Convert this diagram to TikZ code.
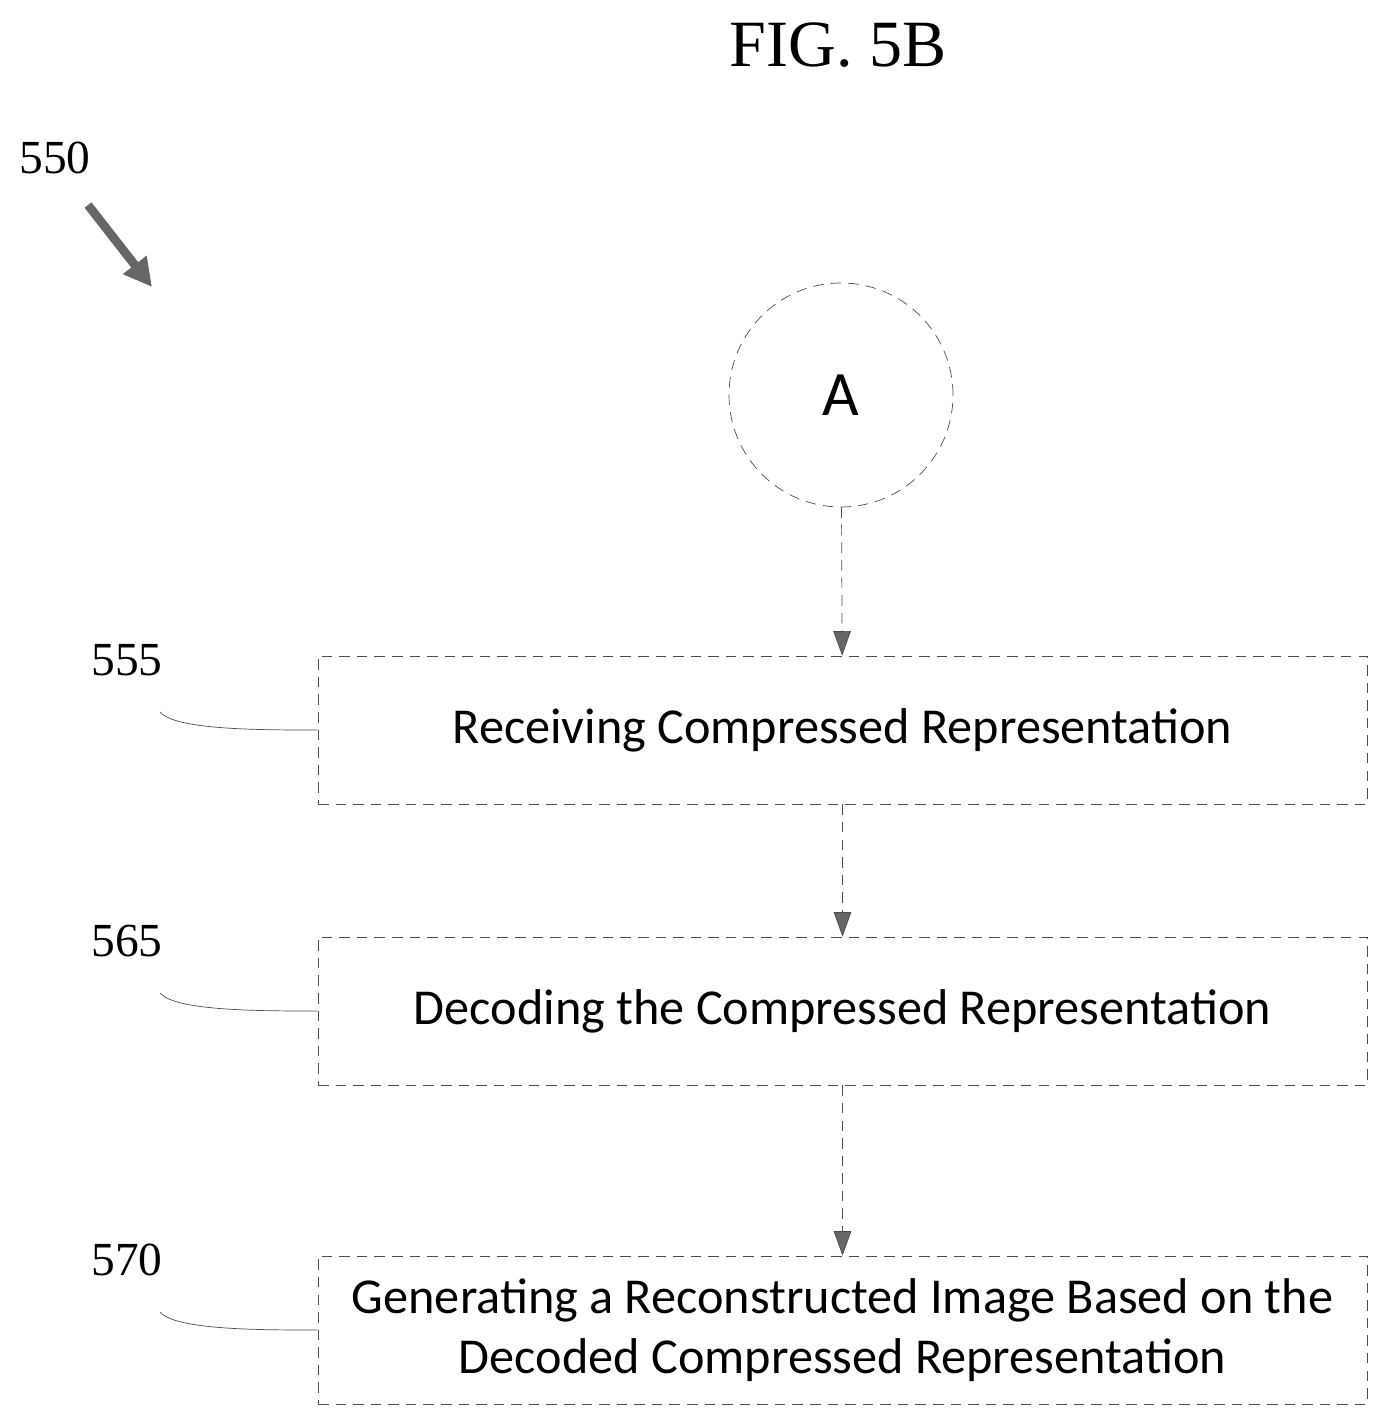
\documentclass[tikz,border=0pt]{standalone}
\usepackage{fontspec}
\setmainfont{Liberation Serif}
\newfontfamily\boxfont{Carlito}
\usetikzlibrary{arrows.meta}
\tikzset{
  stepbox/.style={draw=black!70, densely dashed, very thin, minimum width=10.49cm, minimum height=1.48cm, align=center, font=\boxfont\fontsize{14.3}{17}\selectfont},
  flow/.style={draw=black!70, densely dashed, very thin, -{Triangle[width=5pt,length=7pt,fill=black!60]}},
  ref/.style={font=\fontsize{13.5}{15}\selectfont},
  lead/.style={draw=black!70, very thin}
}
\begin{document}
\begin{tikzpicture}
\useasboundingbox (0,0) rectangle (13.88,-14.26);
\node (title) at (8.38,-0.45) {\fontsize{18.8}{22}\selectfont FIG. 5B};
\node[ref] (n550) at (0.55,-1.58) {550};
\coordinate (p0) at (0.88,-2.05);
\coordinate (p1) at (1.52,-2.87);
\draw [line width=2.5pt, black!60, -{Triangle[width=8pt,length=8pt]}] (p0) -- (p1);
% connector A
\node[draw=black!70, densely dashed, very thin, circle, minimum size=2.24cm, font=\boxfont\fontsize{18}{20}\selectfont] (A) at (8.41,-3.95) {A};
% steps
\node[stepbox] (s555) at (8.425,-7.30) {Receiving Compressed Representation};
\node[stepbox] (s565) at (8.425,-10.11) {Decoding the Compressed Representation};
\node[stepbox] (s570) at (8.425,-13.30) {Generating a Reconstructed Image Based on the\\Decoded Compressed Representation};
\draw [flow] (A) -- (s555);
\draw [flow] (s555) -- (s565);
\draw [flow] (s565) -- (s570);
% reference labels
\node[ref] (n555) at (1.27,-6.60) {555};
\node[ref] (n565) at (1.27,-9.41) {565};
\node[ref] (n570) at (1.27,-12.60) {570};
\coordinate (c555) at (1.60,-7.12);
\coordinate (c565) at (1.60,-9.93);
\coordinate (c570) at (1.60,-13.12);
\draw [lead] (c555) .. controls (1.75,-7.30) and (2.6,-7.30) .. (s555.west);
\draw [lead] (c565) .. controls (1.75,-10.11) and (2.6,-10.11) .. (s565.west);
\draw [lead] (c570) .. controls (1.75,-13.30) and (2.6,-13.30) .. (s570.west);
\end{tikzpicture}
\end{document}
